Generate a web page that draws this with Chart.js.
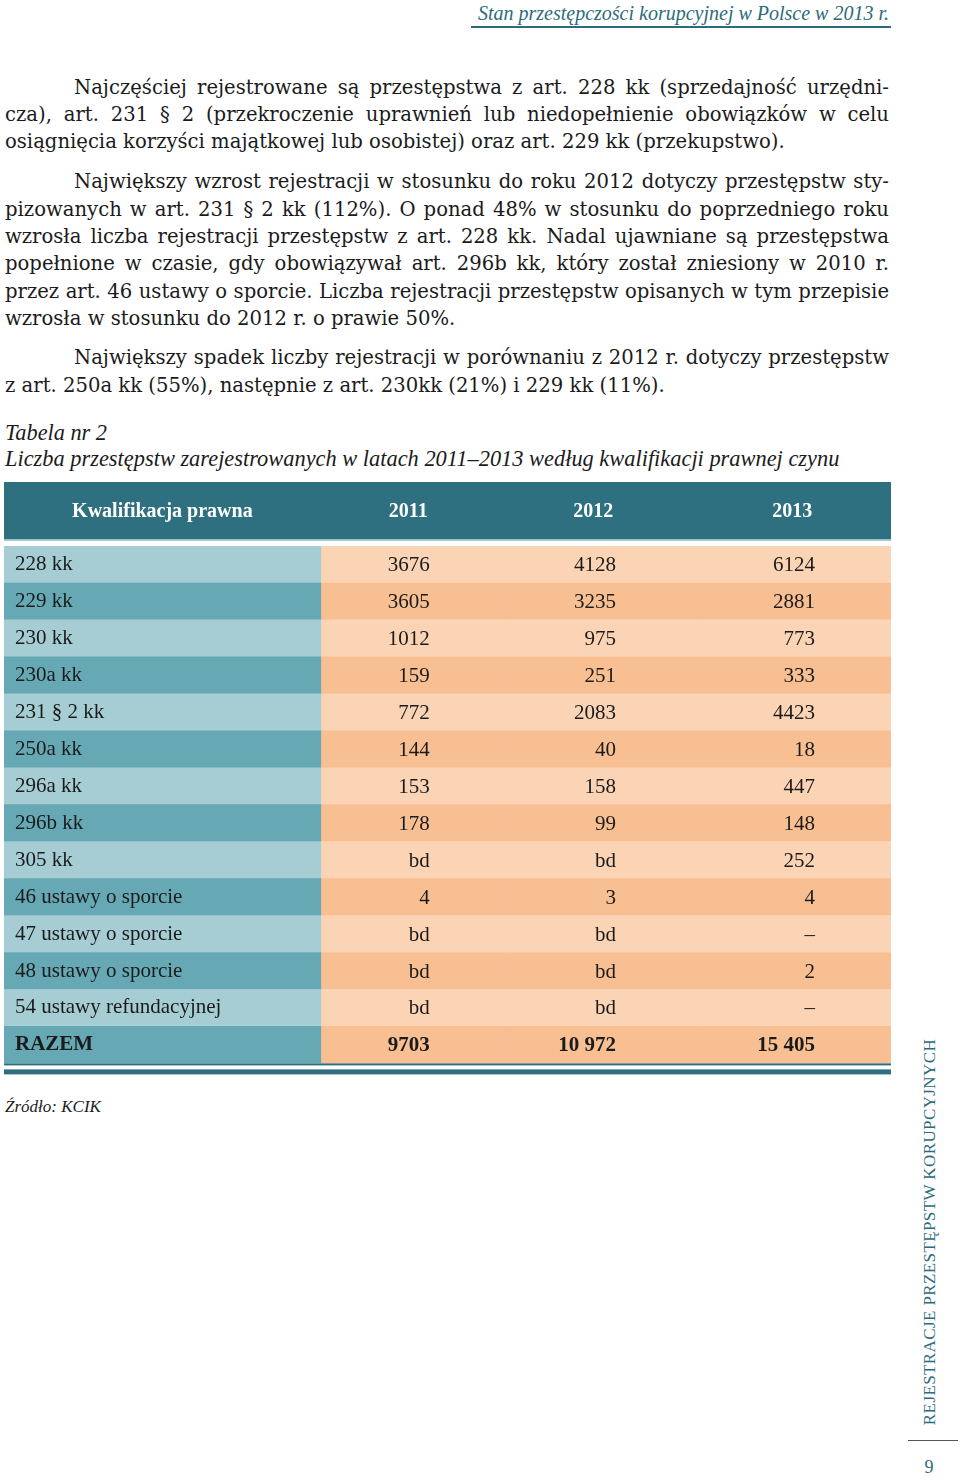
<!DOCTYPE html>
<html><head><meta charset="utf-8">
<script src="https://cdn.jsdelivr.net/npm/chart.js@4/dist/chart.umd.min.js"></script>
<style>
html,body{margin:0;padding:0;background:#fff;}
body{width:960px;height:1477px;position:relative;overflow:hidden;font-family:"Liberation Serif",serif;color:#1b1b1b;}
.t{position:absolute;font-size:22px;line-height:27px;white-space:nowrap;}
.b{font-family:"DejaVu Serif",serif;font-size:19px;margin-top:1.5px;}
.j{text-align:justify;text-align-last:justify;white-space:normal;}
.i{font-style:italic;}
#runhead{position:absolute;right:71px;top:1px;font-size:20px;line-height:24px;font-style:italic;color:#2c6b7b;white-space:nowrap;}
#runline{position:absolute;left:471px;top:26px;width:420px;height:1.5px;background:#2c6b7b;}
#side{position:absolute;left:730px;top:1222px;width:400px;line-height:20px;font-size:17px;color:#2c6b7b;text-align:center;transform:rotate(-90deg);white-space:nowrap;letter-spacing:0.4px;}
#sideline{position:absolute;left:908px;top:1440px;width:50px;height:1px;background:#555;}
#pageno{position:absolute;left:919px;top:1456px;width:20px;text-align:center;font-size:18px;line-height:22px;color:#2c6b7b;}
#wrap{position:absolute;left:0;top:476px;width:900px;height:611px;}
</style></head>
<body>
<div id="runhead">Stan przestępczości korupcyjnej w Polsce w 2013 r.</div>
<div id="runline"></div>

<div class="t b j" style="left:74px;top:72px;width:815px">Najczęściej rejestrowane są przestępstwa z art. 228 kk (sprzedajność urzędni-</div>
<div class="t b j" style="left:5px;top:99px;width:884px">cza), art. 231 § 2 (przekroczenie uprawnień lub niedopełnienie obowiązków w celu</div>
<div class="t b" id="ref" style="left:5px;top:126px">osiągnięcia korzyści majątkowej lub osobistej) oraz art. 229 kk (przekupstwo).</div>

<div class="t b j" style="left:74px;top:166px;width:815px">Największy wzrost rejestracji w stosunku do roku 2012 dotyczy przestępstw sty-</div>
<div class="t b j" style="left:5px;top:194px;width:884px">pizowanych w art. 231 § 2 kk (112%). O ponad 48% w stosunku do poprzedniego roku</div>
<div class="t b j" style="left:5px;top:221px;width:884px">wzrosła liczba rejestracji przestępstw z art. 228 kk. Nadal ujawniane są przestępstwa</div>
<div class="t b j" style="left:5px;top:248px;width:884px">popełnione w czasie, gdy obowiązywał art. 296b kk, który został zniesiony w 2010 r.</div>
<div class="t b j" style="left:5px;top:276px;width:884px">przez art. 46 ustawy o sporcie. Liczba rejestracji przestępstw opisanych w tym przepisie</div>
<div class="t b" style="left:5px;top:303px">wzrosła w stosunku do 2012 r. o prawie 50%.</div>

<div class="t b j" style="left:74px;top:342px;width:815px">Największy spadek liczby rejestracji w porównaniu z 2012 r. dotyczy przestępstw</div>
<div class="t b" style="left:5px;top:370px">z art. 250a kk (55%), następnie z art. 230kk (21%) i 229 kk (11%).</div>

<div class="t i" style="left:5px;top:419px;font-size:22.3px">Tabela nr 2</div>
<div class="t i" style="left:5px;top:445px;font-size:22.4px">Liczba przestępstw zarejestrowanych w latach 2011–2013 według kwalifikacji prawnej czynu</div>

<div id="wrap"><canvas id="c" width="900" height="611"></canvas></div>

<div class="t i" style="left:5px;top:1095px;font-size:17px;line-height:24px">Źródło: KCIK</div>

<div id="side">REJESTRACJE PRZESTĘPSTW KORUPCYJNYCH</div>
<div id="sideline"></div>
<div id="pageno">9</div>

<script>
(function () {
  const ref = document.getElementById('ref');
  const target = 784;
  let size = 19 * target / ref.getBoundingClientRect().width;
  const els = document.querySelectorAll('.b');
  const apply = s => els.forEach(e => e.style.fontSize = s + 'px');
  apply(size);
  let guard = 0;
  while (guard++ < 40 && Array.from(document.querySelectorAll('.j')).some(e => e.getBoundingClientRect().height > 30)) {
    size -= 0.1; apply(size);
  }
})();

// ---- data ----
const headerLabel = 'Kwalifikacja prawna';
const years = ['2011', '2012', '2013'];
const categories = ['228 kk', '229 kk', '230 kk', '230a kk', '231 § 2 kk', '250a kk', '296a kk', '296b kk', '305 kk',
  '46 ustawy o sporcie', '47 ustawy o sporcie', '48 ustawy o sporcie', '54 ustawy refundacyjnej', 'RAZEM'];
const values2011 = [3676, 3605, 1012, 159, 772, 144, 153, 178, 'bd', 4, 'bd', 'bd', 'bd', 9703];
const values2012 = [4128, 3235, 975, 251, 2083, 40, 158, 99, 'bd', 3, 'bd', 'bd', 'bd', 10972];
const values2013 = [6124, 2881, 773, 333, 4423, 18, 447, 148, 252, 4, '–', 2, '–', 15405];

// ---- layout / style (not data) ----
const seriesValues = [values2011, values2012, values2013];
const labelCol = [0, 5];
const valueCols = [[5, 8], [8, 11], [11, 14]];
const valueAnchor = [6.72, 9.66, 12.8];
const headerCenters = [2.5, 6.38, 9.3, 12.44];
const FONT = 'Liberation Serif';
const C = {
  head: '#2e6f80', headLine: '#a3ccd5',
  tealL: '#a6cdd4', tealD: '#66a9b5',
  peachL: '#fbd4b5', peachD: '#f8bf93',
  text: '#1b1b1b', rule: '#2e6e7f'
};
const lastIdx = categories.length - 1;
const fmt = v => typeof v === 'number' ? (v >= 10000 ? String(v).replace(/\B(?=(\d{3})+(?!\d))/g, ' ') : String(v)) : v;

const tablePlugin = {
  id: 'tablePlugin',
  beforeDatasetsDraw(chart) {
    const {ctx, chartArea: a, scales: {x}} = chart;
    const l = x.getPixelForValue(labelCol[0]), r = x.getPixelForValue(valueCols[2][1]);
    ctx.save();
    ctx.fillStyle = C.head;
    ctx.fillRect(l, a.top - 64, r - l, 57.5);
    ctx.fillStyle = C.headLine;
    ctx.fillRect(l, a.top - 6.5, r - l, 1.5);
    ctx.restore();
  },
  afterDatasetsDraw(chart) {
    const {ctx, chartArea: a, scales: {x, y}} = chart;
    ctx.save();
    ctx.fillStyle = '#ffffff';
    ctx.font = 'bold 20px "' + FONT + '"';
    ctx.textAlign = 'center';
    ctx.textBaseline = 'middle';
    [headerLabel, ...years].forEach((t, k) => ctx.fillText(t, x.getPixelForValue(headerCenters[k]), a.top - 34));
    ctx.textAlign = 'right';
    ctx.fillStyle = C.text;
    seriesValues.forEach((arr, k) => {
      const meta = chart.getDatasetMeta(k + 1);
      arr.forEach((v, i) => {
        ctx.font = (i === lastIdx ? 'bold ' : '') + '21px "' + FONT + '"';
        ctx.fillText(fmt(v), x.getPixelForValue(valueAnchor[k]), meta.data[i].y + 1);
      });
    });
    const l = x.getPixelForValue(labelCol[0]), r = x.getPixelForValue(valueCols[2][1]);
    ctx.fillStyle = C.rule;
    ctx.fillRect(l, a.bottom, r - l, 2);
    ctx.fillRect(l, a.bottom + 6, r - l, 5);
    ctx.restore();
  }
};

const common = {grouped: false, barPercentage: 1, categoryPercentage: 1, borderWidth: 0};
const datasets = [
  Object.assign({label: headerLabel, data: categories.map(() => labelCol.slice()),
    backgroundColor: categories.map((_, i) => i % 2 ? C.tealD : C.tealL)}, common),
  ...years.map((yr, k) => Object.assign({label: yr, data: categories.map(() => valueCols[k].slice()),
    backgroundColor: categories.map((_, i) => i % 2 ? C.peachD : C.peachL)}, common))
];

new Chart(document.getElementById('c'), {
  type: 'bar',
  data: {labels: categories, datasets},
  options: {
    indexAxis: 'y',
    responsive: false,
    maintainAspectRatio: false,
    animation: false,
    layout: {padding: {left: 4, right: 9, top: 70, bottom: 14}},
    scales: {
      x: {type: 'linear', min: 0, max: 14, display: false},
      y: {
        type: 'category',
        grid: {display: false, drawTicks: false},
        border: {display: false},
        afterFit: s => { s.width = 0; },
        ticks: {
          mirror: true, padding: 11, z: 1, color: C.text,
          font: ctx => ({family: FONT, size: 21, weight: ctx.index === lastIdx ? 'bold' : 'normal'})
        }
      }
    },
    plugins: {legend: {display: false}, tooltip: {enabled: false}}
  },
  plugins: [tablePlugin]
});
</script>
</body></html>
